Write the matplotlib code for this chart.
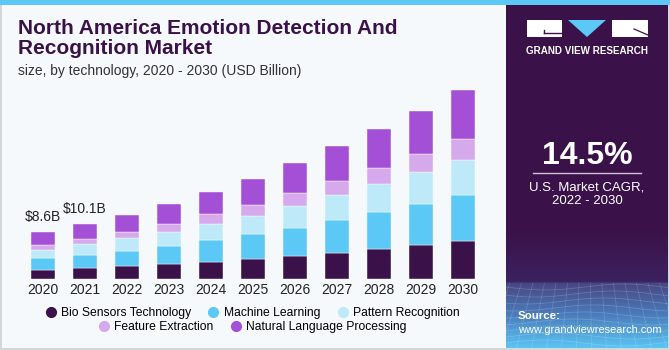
import numpy as np
import matplotlib.pyplot as plt
from matplotlib.patches import Rectangle, Polygon
from matplotlib.lines import Line2D
from matplotlib.colors import LinearSegmentedColormap

plt.rcParams['font.family'] = ['Liberation Sans', 'DejaVu Sans']

# ---- data (USD Billion) ----
years = ['2020', '2021', '2022', '2023', '2024', '2025',
         '2026', '2027', '2028', '2029', '2030']
bio_sensors = [1.73, 1.98, 2.41, 2.78, 3.20, 3.70, 4.31, 4.87, 5.50, 6.24, 6.98]
machine_learning = [2.12, 2.46, 2.83, 3.33, 4.02, 4.57, 5.18, 6.06, 6.91, 7.65, 8.57]
pattern_recognition = [1.55, 2.04, 2.35, 2.65, 3.02, 3.44, 4.02, 4.63, 5.19, 5.93, 6.54]
feature_extraction = [0.93, 0.93, 1.17, 1.42, 1.73, 1.98, 2.35, 2.59, 3.02, 3.33, 3.78]
nlp = [2.29, 2.72, 3.09, 3.65, 4.13, 4.81, 5.56, 6.43, 7.22, 8.02, 9.13]
series_names = ['Bio Sensors Technology', 'Machine Learning', 'Pattern Recognition',
                'Feature Extraction', 'Natural Language Processing']
bar_labels = {0: '$8.6B', 1: '$10.1B'}

colors = ['#3a1149', '#5bc8f5', '#bde9f9', '#d5a9ec', '#a450d6']
W, H = 670, 350

fig = plt.figure(figsize=(W / 100, H / 100), dpi=100)
fig.patch.set_facecolor('#d3d7da')

# ---- background / decoration axes in pixel coordinates ----
bg = fig.add_axes([0, 0, 1, 1])
bg.set_xlim(0, W)
bg.set_ylim(H, 0)
bg.axis('off')
bg.add_patch(Rectangle((2, 0), 504, 348, facecolor='#f5f9fc', edgecolor='none'))
bg.add_patch(Rectangle((506, 0), 162, 348, facecolor='#3a1249', edgecolor='none'))
bg.add_patch(Rectangle((0, 0), W, 5, facecolor='#5bc8f5', edgecolor='none'))

# gradient at bottom of the side panel
grad_cmap = LinearSegmentedColormap.from_list(
    'g', [(0, '#3a1249'), (0.44, '#3d2160'), (0.45, '#474682'),
          (0.72, '#4a7cbc'), (1, '#5bc4f2')])
grad = np.linspace(0, 1, 200).reshape(-1, 1)
bg.imshow(grad, cmap=grad_cmap, extent=(506, 668, 348, 230), aspect='auto', zorder=1)
# faint perspective grid
gx = np.linspace(506, 668, 60)
for k in range(9):
    y0 = 287 + k * 7.0
    bg.plot(gx, y0 + 3 * np.sin((gx - 506) / 25 + k * 0.4), color='white', alpha=0.18, lw=0.6, zorder=2)
for k in range(18):
    x0 = 500 + k * 10
    bg.plot([x0 + (x0 - 587) * 0.15, x0 + (x0 - 587) * 0.5], [283, 348], color='white', alpha=0.15, lw=0.6, zorder=2)

# logo
bg.add_patch(Rectangle((527, 20), 35, 17, facecolor='white', edgecolor='none', zorder=3))
bg.add_line(Line2D([544, 562], [33, 33], color='#3a1249', lw=1.0, zorder=4))
bg.add_line(Line2D([544, 544], [30, 33], color='#3a1249', lw=1.0, zorder=4))
bg.add_patch(Polygon([(568, 20), (606, 20), (587, 37)], closed=True, facecolor='#5bc8f5',
                     edgecolor='none', zorder=3))
bg.add_patch(Rectangle((612, 20), 36, 17, facecolor='white', edgecolor='none', zorder=3))
bg.add_line(Line2D([634, 648], [29, 35], color='#3a1249', lw=0.9, zorder=4))
bg.text(587.5, 51, 'GRAND VIEW RESEARCH', color='white', fontsize=7.1, fontweight='bold',
        ha='center', va='center', zorder=3)

# CAGR block
bg.text(587, 156, '14.5%', color='white', fontsize=23, fontweight='bold',
        ha='center', va='center', zorder=3)
bg.add_line(Line2D([533, 641], [173, 173], color='#cfc3d8', lw=1.0, zorder=3))
bg.text(587, 188, 'U.S. Market CAGR,', color='white', fontsize=9.5, ha='center', va='center', zorder=3)
bg.text(587, 201, '2022 - 2030', color='white', fontsize=9.5, ha='center', va='center', zorder=3)
bg.text(518, 316, 'Source:', color='white', fontsize=8.2, fontweight='bold', ha='left', va='center', zorder=3)
bg.text(518, 330, 'www.grandviewresearch.com', color='white', fontsize=7.9, ha='left', va='center', zorder=3)

# titles
bg.text(18, 28, 'North America Emotion Detection And', color='#3a1149', fontsize=15,
        fontweight='heavy', ha='left', va='center')
bg.text(18, 49, 'Recognition Market', color='#3a1149', fontsize=15,
        fontweight='heavy', ha='left', va='center')
bg.text(18, 71, 'size, by technology, 2020 - 2030 (USD Billion)', color='#333333',
        fontsize=10, ha='left', va='center')

# ---- chart axes ----
L, R, base, top = 20, 490, 279, 85
step = 42.0
c0 = 43.0
ax = fig.add_axes([L / W, (H - base) / H, (R - L) / W, (base - top) / H])
ax.patch.set_alpha(0)
ax.set_xlim((L - c0) / step, (R - c0) / step)
ax.set_ylim(0, (base - top) / 5.4)

x = np.arange(len(years))
bottom = np.zeros(len(years))
for name, vals, col in zip(series_names,
                           [bio_sensors, machine_learning, pattern_recognition, feature_extraction, nlp],
                           colors):
    ax.bar(x, vals, width=0.57, bottom=bottom, color=col, label=name,
           edgecolor='white', linewidth=0.3)
    bottom += np.array(vals)

for i, txt in bar_labels.items():
    ax.text(x[i], bottom[i] + 1.6, txt, ha='center', va='bottom', fontsize=10, color='#222222')

ax.set_xticks(x)
ax.set_xticklabels(years, fontsize=10, color='#222222')
ax.tick_params(axis='x', length=0, pad=3)
ax.set_yticks([])
for s in ax.spines.values():
    s.set_visible(False)

# legend (two rows, centred)
handles = [Line2D([], [], marker='o', ls='none', markersize=7, color=c) for c in colors]
fig.legend(handles[:3], series_names[:3], loc='center', bbox_to_anchor=(252 / W, 1 - 313 / H),
           ncol=3, frameon=False, fontsize=8.7, handletextpad=0.35, columnspacing=1.35,
           handlelength=1.0, borderpad=0)
fig.legend(handles[3:], series_names[3:], loc='center', bbox_to_anchor=(252 / W, 1 - 327 / H),
           ncol=2, frameon=False, fontsize=8.7, handletextpad=0.35, columnspacing=1.35,
           handlelength=1.0, borderpad=0)

fig.savefig('out.png', dpi=100, facecolor=fig.get_facecolor())
